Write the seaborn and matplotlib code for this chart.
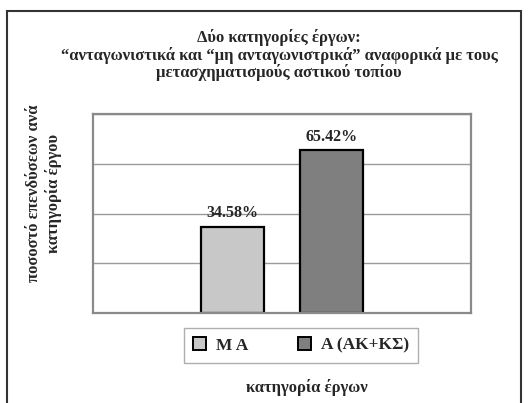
import matplotlib
matplotlib.use("Agg")
import matplotlib.pyplot as plt
import pandas as pd
import seaborn as sns
from matplotlib.patches import Rectangle

# Data
series = ["Μ Α", "Α (ΑΚ+ΚΣ)"]
values = [34.58, 65.42]
colors = ["#c8c8c8", "#7f7f7f"]

title = ("Δύο κατηγορίες έργων:\n"
         "“ανταγωνιστικά και “μη ανταγωνιστρικά” αναφορικά με τους\n"
         "μετασχηματισμούς αστικού τοπίου")
ylabel = "ποσοστό επενδύσεων ανά\nκατηγορία έργου"
xlabel = "κατηγορία έργων"

df = pd.DataFrame({"group": [""] * len(series), "series": series, "value": values})

sns.set_style("white")
plt.rcParams["font.family"] = ["Liberation Serif", "DejaVu Serif"]
plt.rcParams["font.weight"] = "bold"

fig = plt.figure(figsize=(5.3, 4.03), dpi=100)
ax = fig.add_axes([93 / 530, 1 - 313 / 403, 378 / 530, 199 / 403])

sns.barplot(data=df, x="group", y="value", hue="series", palette=colors,
            width=0.52, gap=0.36, edgecolor="black", linewidth=1.6, ax=ax)

ax.set_ylim(0, 80)
ax.set_xlim(-0.5, 0.5)
ax.set_yticks([0, 20, 40, 60, 80])
ax.set_yticklabels([])
ax.yaxis.grid(True, color="#9a9a9a", linewidth=1.0)
ax.set_axisbelow(True)
ax.set_xticks([-0.5, 0.5])
ax.set_xticklabels([])
ax.tick_params(axis="x", direction="out", length=5, color="#9a9a9a", width=1.2)
ax.tick_params(axis="y", length=0)
ax.set_xlabel("")
ax.set_ylabel("")
for sp in ax.spines.values():
    sp.set_color("#8a8a8a")
    sp.set_linewidth(1.6)

for c in ax.containers:
    ax.bar_label(c, fmt="%.2f%%", padding=4, fontsize=11.5, fontweight="bold")

ax.get_legend().remove()
handles = [Rectangle((0, 0), 1, 1, facecolor=col, edgecolor="black", linewidth=1.4) for col in colors]
leg = fig.legend(handles, series, ncol=2, loc="center",
                 bbox_to_anchor=(301 / 530, 1 - 345.5 / 403),
                 frameon=True, fancybox=False, edgecolor="#9a9a9a",
                 handlelength=0.75, handleheight=0.75, handletextpad=0.55,
                 columnspacing=2.9, borderpad=0.55, borderaxespad=0,
                 prop={"size": 12.5, "weight": "bold"})
leg.get_frame().set_linewidth(1.0)

fig.text(279 / 530, 1 - 55 / 403, title, ha="center", va="center",
         fontsize=12, fontweight="bold", linespacing=1.05, multialignment="center")
fig.text(44 / 530, 1 - 193 / 403, ylabel, ha="center", va="center", rotation=90,
         fontsize=12, fontweight="bold", multialignment="center", linespacing=1.25)
fig.text(307 / 530, 1 - 388 / 403, xlabel, ha="center", va="center",
         fontsize=12, fontweight="bold")

# outer chart border
fig.patches.append(Rectangle((7 / 530, -0.02), 514 / 530, 1.02 - 11 / 403,
                             transform=fig.transFigure, fill=False,
                             edgecolor="#333333", linewidth=1.5))

fig.savefig("out.png", dpi=100)
